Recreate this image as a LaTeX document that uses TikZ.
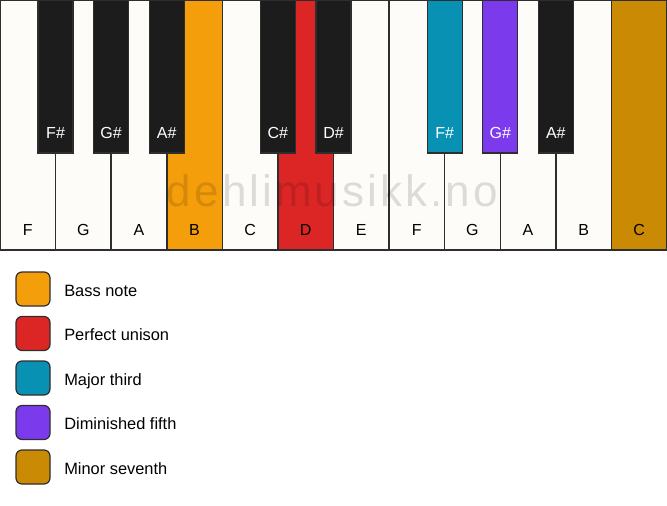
\documentclass[tikz,border=0pt]{standalone}
\usepackage{fontspec}
\setmainfont{Liberation Sans}
\usetikzlibrary{positioning}
\definecolor{keywhite}{HTML}{FDFCF9}
\definecolor{keyblack}{HTML}{1C1C1C}
\definecolor{keyedge}{HTML}{2E2E2E}
\definecolor{bass}{HTML}{F59E0B}
\definecolor{unison}{HTML}{DC2626}
\definecolor{third}{HTML}{0891B2}
\definecolor{fifth}{HTML}{7C3AED}
\definecolor{seventh}{HTML}{CA8A04}
\tikzset{
  keylabel/.style={inner sep=0pt, text height=11pt, text depth=0pt, font=\fontsize{16}{19}\selectfont},
  legbox/.style={draw=keyedge, line width=1.2pt, rounded corners=6pt, minimum size=34pt, inner sep=0pt},
  legtext/.style={anchor=west, inner sep=0pt, text height=11.5pt, text depth=0pt, yshift=-1.5pt, font=\fontsize{16.4}{19}\selectfont}
}
\begin{document}
\begin{tikzpicture}[x=1pt,y=-1pt]
\fill[white] (0,0) rectangle (667,506);
\useasboundingbox (0,0) rectangle (667,506);

% white keys
\foreach \n/\c [count=\i from 0] in {F/keywhite,G/keywhite,A/keywhite,B/bass,C/keywhite,D/unison,E/keywhite,F/keywhite,G/keywhite,A/keywhite,B/keywhite,C/seventh}{
  \filldraw[fill=\c, draw=keyedge, line width=1.5pt] (\i*55.583,0) rectangle ++(55.583,250);
  \node[keylabel] (w\i) at (\i*55.583+27.79,230.3) {\n};
}

\node[anchor=base, text=black, opacity=0.13, font=\fontsize{44}{50}\selectfont\addfontfeature{LetterSpace=7}] (mark) at (332.5,206.7) {dehlimusikk.no};

% black keys
\foreach \n/\c/\i in {F\#/keyblack/1,G\#/keyblack/2,A\#/keyblack/3,C\#/keyblack/5,D\#/keyblack/6,F\#/third/8,G\#/fifth/9,A\#/keyblack/10}{
  \filldraw[fill=\c, draw=keyedge, line width=1.2pt] (\i*55.583-17.5,0) rectangle ++(35,153);
  \node[keylabel, text=white] (b\i) at (\i*55.583,133) {\n};
}

% legend
\foreach \c/\t [count=\k from 0] in {bass/Bass note,unison/Perfect unison,third/Major third,fifth/Diminished fifth,seventh/Minor seventh}{
  \node[legbox, fill=\c] (sw\k) at (33,289+44.5*\k) {};
  \node[legtext, right=13.5pt of sw\k] (lt\k) {\t};
}
\end{tikzpicture}
\end{document}
